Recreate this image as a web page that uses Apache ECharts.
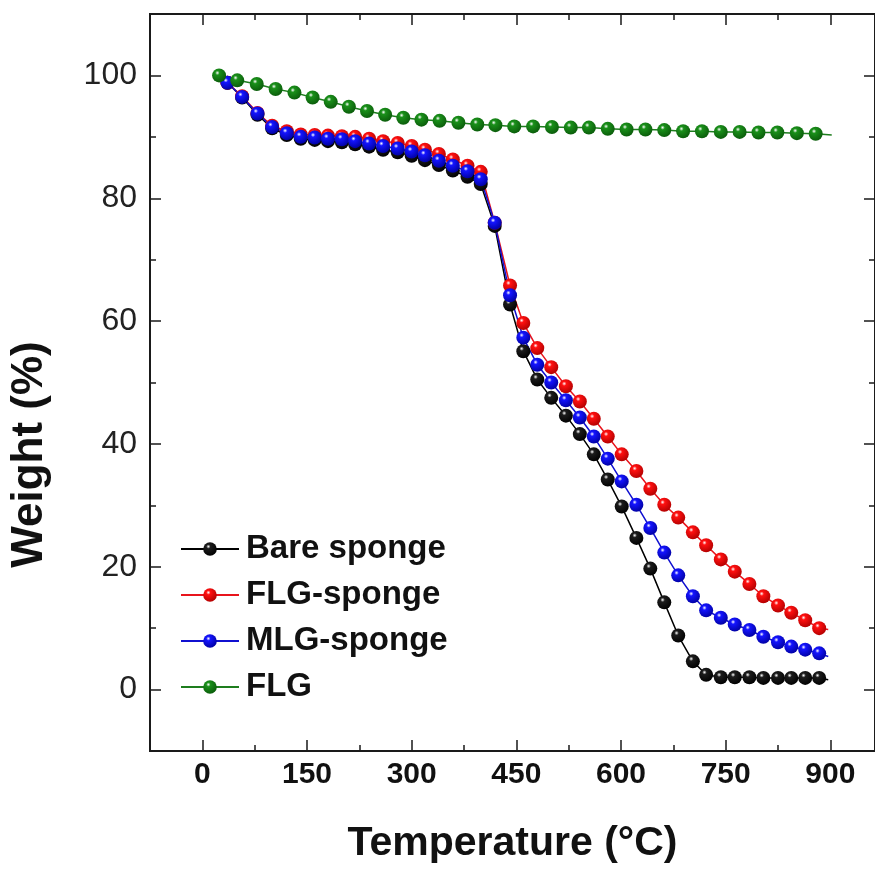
<!DOCTYPE html>
<html>
<head>
<meta charset="utf-8">
<script src="https://cdn.jsdelivr.net/npm/echarts@6/dist/echarts.min.js"></script>
<style>
  html, body { margin: 0; padding: 0; background: #fff; }
  #chart { width: 875px; height: 869px; }
</style>
</head>
<body>
<div id="chart"></div>
<script>
// marker temperatures (°C) for the three sponge curves, last value = line end (no marker)
const spongeTemp = [36, 57, 79, 100, 121, 141, 161, 180, 200, 219, 239, 259, 280, 300, 319, 339, 359, 380, 399, 419,
  441, 460, 480, 500, 521, 541, 561, 581, 601, 622, 642, 662, 682, 703, 722, 743, 763, 784, 804, 825, 844, 864, 884, 897];

const bareWeight = [98.8, 96.4, 93.6, 91.4, 90.3, 89.7, 89.5, 89.3, 89.1, 88.8, 88.4, 87.9, 87.5, 86.9, 86.2, 85.4, 84.5, 83.5, 82.3, 75.5,
  62.7, 55.1, 50.5, 47.5, 44.6, 41.6, 38.3, 34.2, 29.8, 24.7, 19.7, 14.2, 8.8, 4.6, 2.4, 2.0, 2.0, 2.0, 1.9, 1.9, 1.9, 1.9, 1.9, 1.6];

const flgSpongeWeight = [98.8, 96.6, 93.9, 91.8, 90.9, 90.4, 90.3, 90.2, 90.1, 90.0, 89.7, 89.3, 89.0, 88.5, 87.9, 87.2, 86.3, 85.3, 84.3, 76.0,
  65.8, 59.7, 55.6, 52.5, 49.4, 46.9, 44.1, 41.2, 38.3, 35.6, 32.7, 30.1, 28.0, 25.6, 23.5, 21.2, 19.2, 17.2, 15.2, 13.7, 12.5, 11.3, 10.0, 9.8];

const mlgSpongeWeight = [98.8, 96.5, 93.8, 91.6, 90.6, 90.0, 89.9, 89.7, 89.6, 89.3, 88.9, 88.5, 88.1, 87.6, 87.0, 86.1, 85.3, 84.4, 83.1, 76.0,
  64.2, 57.3, 52.9, 50.0, 47.1, 44.3, 41.2, 37.6, 33.9, 30.1, 26.3, 22.3, 18.6, 15.2, 12.9, 11.7, 10.6, 9.7, 8.6, 7.7, 7.0, 6.5, 5.9, 5.4];

// FLG powder curve
const flgTemp = [24, 50, 78, 105, 132, 158, 184, 210, 236, 262, 288, 314, 340, 367, 394, 420, 447,
  474, 501, 528, 554, 581, 608, 635, 662, 689, 716, 743, 770, 797, 824, 852, 879, 902];
const flgWeight = [100, 99.2, 98.6, 97.8, 97.2, 96.4, 95.7, 94.9, 94.2, 93.6, 93.1, 92.8, 92.6, 92.3, 92.0, 91.9, 91.7,
  91.7, 91.6, 91.5, 91.5, 91.3, 91.2, 91.2, 91.1, 90.9, 90.9, 90.8, 90.8, 90.7, 90.7, 90.6, 90.5, 90.3];

const xMajor = [0, 150, 300, 450, 600, 750, 900];
const xMinor = [75, 225, 375, 525, 675, 825];
const yMajor = [0, 20, 40, 60, 80, 100];
const yMinor = [10, 30, 50, 70, 90];

const FONT = '"Liberation Sans", Arial, sans-serif';
const AXIS_COLOR = '#1a1a1a';

function toPoints(temps, weights) {
  return temps.map((t, i) => {
    const p = { value: [t, weights[i]] };
    if (i === temps.length - 1) p.symbol = 'none';
    return p;
  });
}

function ball(base, dark) {
  return new echarts.graphic.RadialGradient(0.38, 0.32, 0.72, [
    { offset: 0, color: '#ffffff' },
    { offset: 0.22, color: base },
    { offset: 1, color: dark }
  ]);
}

function xAx(position, ticks, len, labels) {
  return {
    type: 'value', position: position, min: -75, max: 964,
    axisLine: { show: true, onZero: false, lineStyle: { color: AXIS_COLOR, width: 2 } },
    axisTick: { show: true, inside: true, length: len, customValues: ticks, lineStyle: { color: AXIS_COLOR, width: 1.5 } },
    axisLabel: labels ? {
      customValues: labels, margin: 9, color: '#111', fontSize: 30, fontWeight: 'bold', fontFamily: FONT
    } : { show: false },
    splitLine: { show: false }
  };
}

function yAx(position, ticks, len, labels) {
  return {
    type: 'value', position: position, min: -10, max: 110,
    axisLine: { show: true, onZero: false, lineStyle: { color: AXIS_COLOR, width: 2 } },
    axisTick: { show: true, inside: true, length: len, customValues: ticks, lineStyle: { color: AXIS_COLOR, width: 1.5 } },
    axisLabel: labels ? {
      customValues: labels, margin: 13, color: '#222', fontSize: 32, fontFamily: FONT
    } : { show: false },
    splitLine: { show: false }
  };
}

const chart = echarts.init(document.getElementById('chart'));

const xMain = xAx('bottom', xMajor, 11, xMajor);
xMain.name = 'Temperature (°C)';
xMain.nameLocation = 'middle';
xMain.nameGap = 72;
xMain.nameTextStyle = { color: '#111', fontSize: 41, fontWeight: 'bold', fontFamily: FONT };

const yMain = yAx('left', yMajor, 11, yMajor);
yMain.name = 'Weight (%)';
yMain.nameLocation = 'middle';
yMain.nameRotate = 90;
yMain.nameGap = 98;
yMain.nameTextStyle = { color: '#111', fontSize: 44, fontWeight: 'bold', fontFamily: FONT, padding: [0, 144, 0, 0] };

const option = {
  backgroundColor: '#ffffff',
  animation: false,
  grid: { left: 148, top: 14, width: 728, height: 738, containLabel: false },
  xAxis: [xMain, xAx('bottom', xMinor, 6), xAx('top', xMajor, 11), xAx('top', xMinor, 6)],
  yAxis: [yMain, yAx('left', yMinor, 6), yAx('right', yMajor, 11), yAx('right', yMinor, 6)],
  legend: {
    orient: 'vertical', left: 175, top: 527,
    itemWidth: 58, itemHeight: 17, itemGap: 12,
    textStyle: { color: '#111', fontSize: 33, fontWeight: 'bold', fontFamily: FONT, lineHeight: 34, padding: [0, 0, 0, 2] },
    data: ['Bare sponge', 'FLG-sponge', 'MLG-sponge', 'FLG']
  },
  series: [
    {
      name: 'Bare sponge', type: 'line', symbol: 'circle', symbolSize: 14,
      data: toPoints(spongeTemp, bareWeight),
      lineStyle: { color: '#000', width: 1.5 },
      itemStyle: { color: ball('#1c1c1c', '#000000') }
    },
    {
      name: 'FLG-sponge', type: 'line', symbol: 'circle', symbolSize: 14,
      data: toPoints(spongeTemp, flgSpongeWeight),
      lineStyle: { color: '#e8141c', width: 1.5 },
      itemStyle: { color: ball('#ff1010', '#b00000') }
    },
    {
      name: 'MLG-sponge', type: 'line', symbol: 'circle', symbolSize: 14,
      data: toPoints(spongeTemp, mlgSpongeWeight),
      lineStyle: { color: '#1010d0', width: 1.5 },
      itemStyle: { color: ball('#1414ff', '#0000a0') }
    },
    {
      name: 'FLG', type: 'line', symbol: 'circle', symbolSize: 14,
      data: toPoints(flgTemp, flgWeight),
      lineStyle: { color: '#1e7d1e', width: 1.5 },
      itemStyle: { color: ball('#1a901a', '#0a5a0a') }
    }
  ]
};

chart.setOption(option);
</script>
</body>
</html>
